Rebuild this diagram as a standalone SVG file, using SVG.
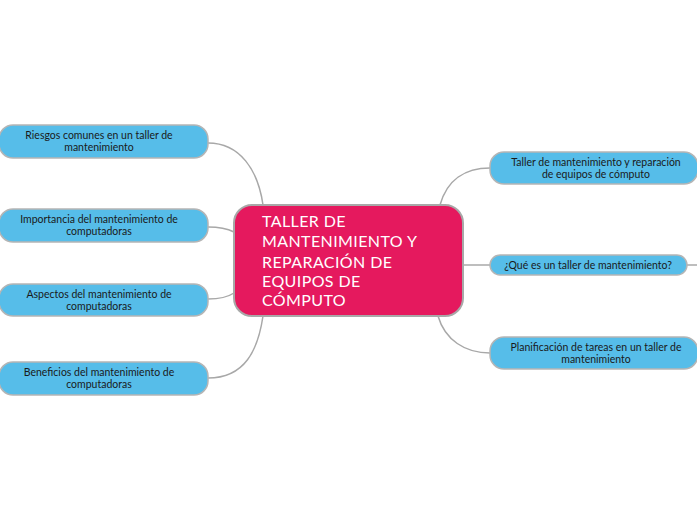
<svg xmlns="http://www.w3.org/2000/svg" width="697" height="520" viewBox="0 0 697 520">
<style>
.sub{fill:#56bde9;stroke:#b5b5b5;stroke-width:1.5}
.main{fill:#e5195e;stroke:#a8a8a8;stroke-width:2}
.st{font-family:Lato,"Noto Sans",sans-serif;font-size:10.5px;fill:#1a1a1a;text-anchor:middle}
.mt{font-family:Lato,"Noto Sans",sans-serif;font-size:16px;fill:#ffffff;letter-spacing:0.4px}
.c{fill:none;stroke:#a8a8a8;stroke-width:1.5}
</style>
<rect width="697" height="520" fill="#ffffff"/>
<g id="connectors">
<path class="c" d="M208,143 C240,143 258,170 263,205"/>
<path class="c" d="M208,227 C220,227 228,229 234,232"/>
<path class="c" d="M208,299 C220,299 228,297 234,293"/>
<path class="c" d="M208,378 C245,378 258,350 263,316"/>
<path class="c" d="M440,205 C447,180 465,168 490,168"/>
<path class="c" d="M463,265 L490,265"/>
<path class="c" d="M687,265 L697,265"/>
<path class="c" d="M438,316 C445,340 465,353 490,353"/>
</g>
<g id="central">
<rect class="main" x="234" y="205" width="229" height="111" rx="18"/>
<text class="mt" x="262" y="227">TALLER DE</text>
<text class="mt" x="262" y="247">MANTENIMIENTO Y</text>
<text class="mt" x="262" y="268">REPARACIÓN DE</text>
<text class="mt" x="262" y="287">EQUIPOS DE</text>
<text class="mt" x="262" y="306">CÓMPUTO</text>
</g>
<g id="riesgos">
<rect class="sub" x="-1" y="125" width="209" height="33" rx="14"/>
<text class="st" x="99" y="139">Riesgos comunes en un taller de</text>
<text class="st" x="99" y="151">mantenimiento</text>
</g>
<g id="importancia">
<rect class="sub" x="-1" y="209" width="209" height="33" rx="14"/>
<text class="st" x="99" y="223">Importancia del mantenimiento de</text>
<text class="st" x="99" y="235">computadoras</text>
</g>
<g id="aspectos">
<rect class="sub" x="-1" y="284" width="209" height="32" rx="14"/>
<text class="st" x="99" y="298">Aspectos del mantenimiento de</text>
<text class="st" x="99" y="310">computadoras</text>
</g>
<g id="beneficios">
<rect class="sub" x="-1" y="362" width="209" height="33" rx="14"/>
<text class="st" x="99" y="376">Beneficios del mantenimiento de</text>
<text class="st" x="99" y="388">computadoras</text>
</g>
<g id="taller">
<rect class="sub" x="490" y="152" width="208" height="32" rx="14"/>
<text class="st" x="596" y="166">Taller de mantenimiento y reparación</text>
<text class="st" x="596" y="178">de equipos de cómputo</text>
</g>
<g id="quees">
<rect class="sub" x="490" y="255" width="197" height="20" rx="10"/>
<text class="st" x="588" y="269">¿Qué es un taller de mantenimiento?</text>
</g>
<g id="planificacion">
<rect class="sub" x="490" y="337" width="208" height="32" rx="14"/>
<text class="st" x="596" y="351">Planificación de tareas en un taller de</text>
<text class="st" x="596" y="363">mantenimiento</text>
</g>
</svg>
